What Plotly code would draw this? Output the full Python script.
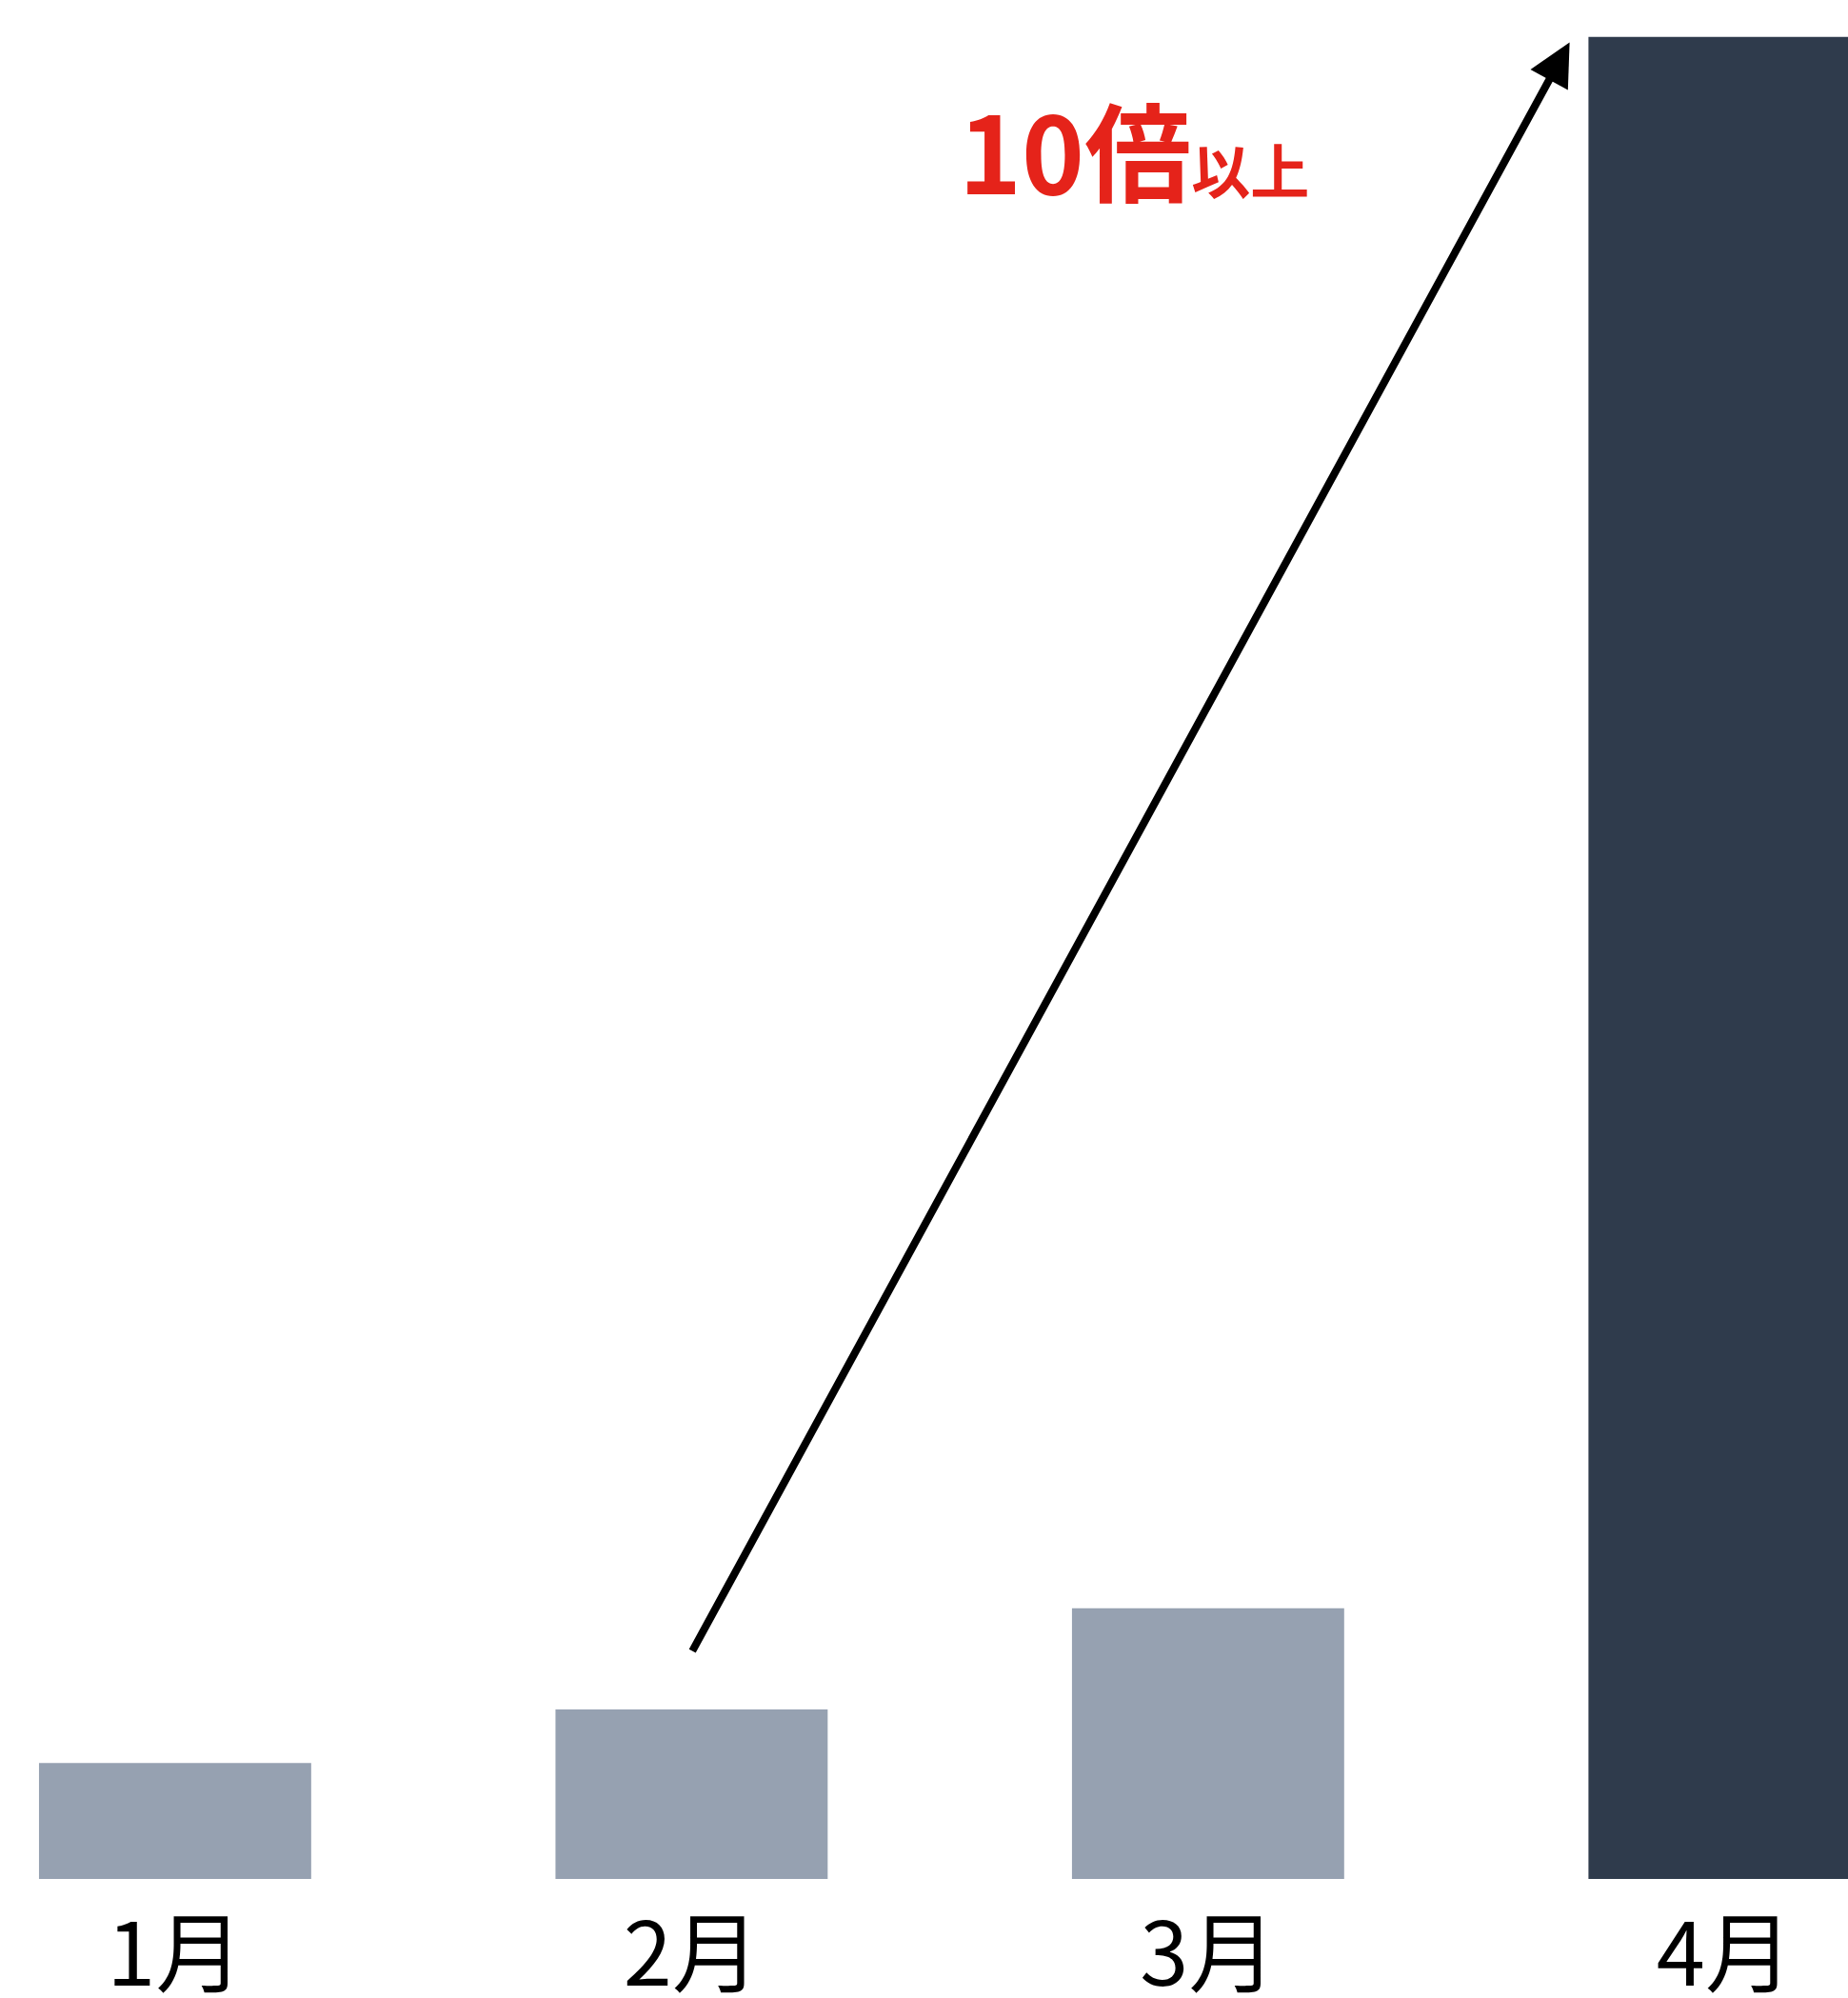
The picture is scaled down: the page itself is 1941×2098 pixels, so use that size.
import plotly.graph_objects as go

months = ["1月", "2月", "3月", "4月"]
values = [6.3, 9.2, 14.7, 100.0]
bar_colors = ["#96A1B1", "#96A1B1", "#96A1B1", "#2F3B4C"]

label_main = "10倍"
label_sub = "以上"

FONT = "Noto Sans CJK JP"

fig = go.Figure()
fig.add_trace(go.Bar(
    x=months, y=values,
    marker=dict(color=bar_colors, line=dict(width=0)),
    hoverinfo="skip",
))

# arrow from above 2月 to the top of 4月
fig.add_annotation(
    x=2.70, y=99.7, xref="x", yref="y",
    ax=1.0, ay=12.3, axref="x", ayref="y",
    showarrow=True, arrowhead=2, arrowsize=1.12, arrowwidth=8,
    arrowcolor="#000000", text="",
)

fig.add_annotation(
    x=0.518, y=0.9215, xref="paper", yref="paper",
    xanchor="left", yanchor="middle", showarrow=False,
    text=f"<b>{label_main}</b><b><span style='font-size:62px'>{label_sub}</span></b>",
    font=dict(family=FONT, size=112, color="#E5231A"),
)

fig.update_layout(
    width=1941, height=2098,
    margin=dict(l=0, r=0, t=0, b=125, pad=0, autoexpand=False),
    paper_bgcolor="white", plot_bgcolor="white",
    bargap=0.473, showlegend=False,
    xaxis=dict(range=[-0.339, 3.239], showgrid=False, zeroline=False,
               showline=False, ticks="", ticklabelstandoff=19, automargin=False,
               tickfont=dict(family=FONT, size=92, color="#000000")),
    yaxis=dict(range=[0, 102.0], visible=False, showgrid=False, zeroline=False,
               automargin=False),
)

fig.write_html(
    "out.html",
    config={"displayModeBar": False, "staticPlot": True},
    post_script="document.body.style.margin='0';document.body.style.overflow='hidden';",
)
